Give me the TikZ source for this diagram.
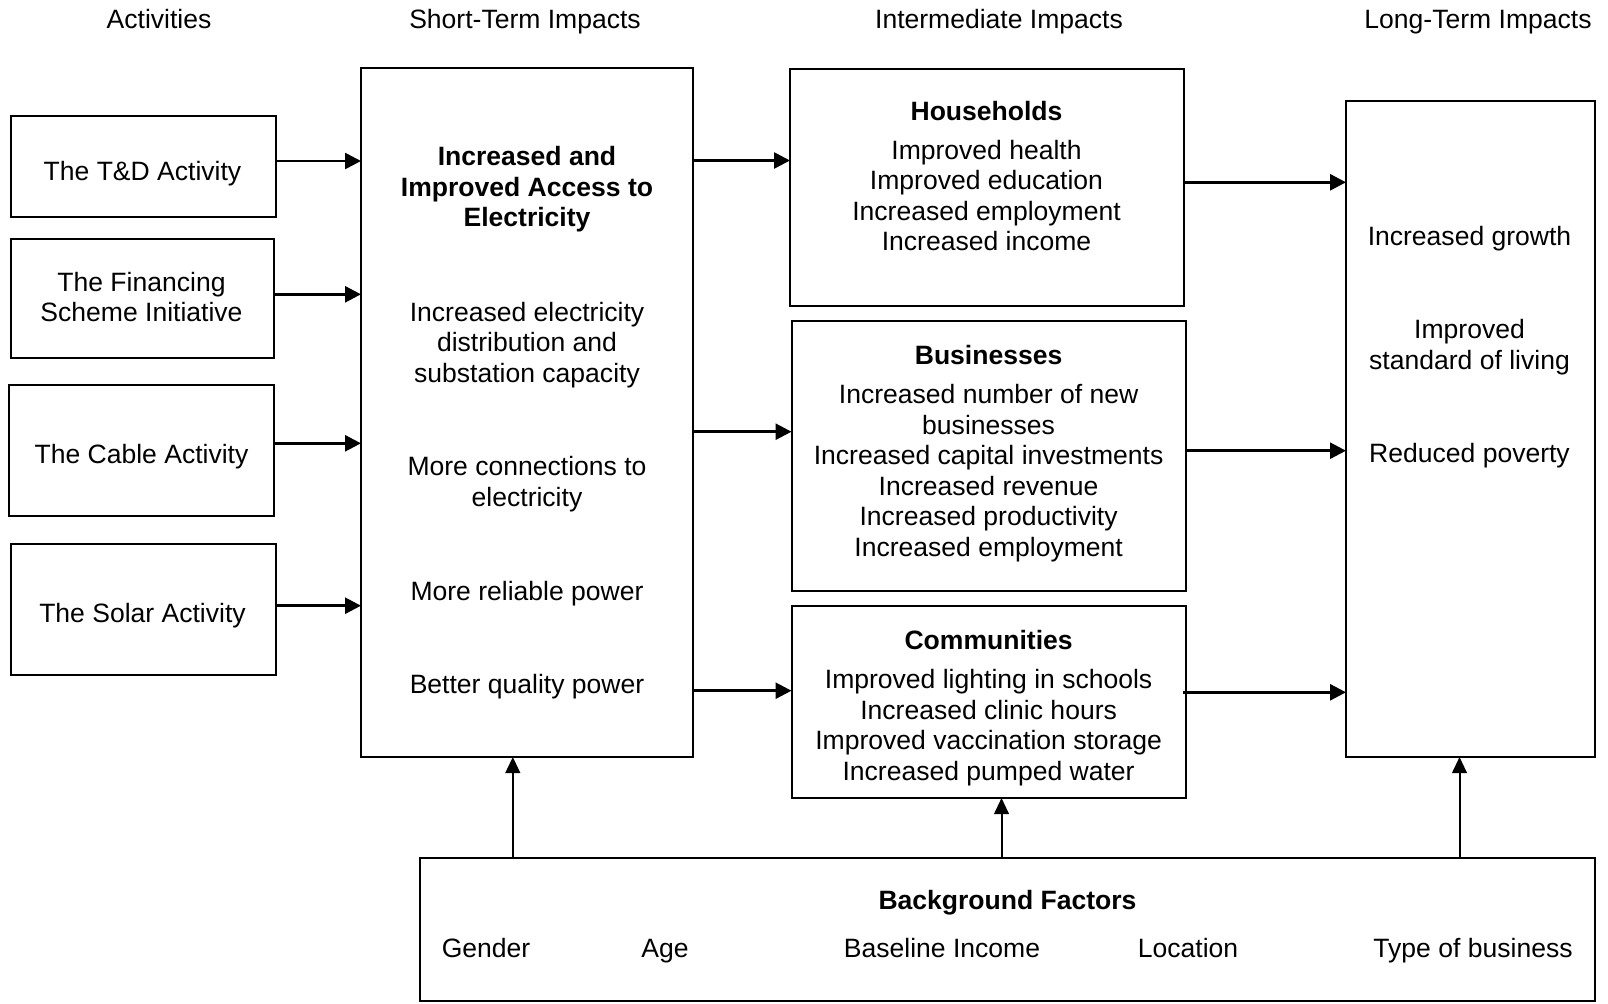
\documentclass[tikz,border=0pt]{standalone}
\usepackage{fontspec}
\setmainfont{Liberation Sans}
\usetikzlibrary{arrows.meta,fit}
\begin{document}
\begin{tikzpicture}[x=0.75pt,y=-0.75pt,
  box/.style={draw,line width=1.5pt,inner sep=0pt,outer sep=0pt},
  txt/.style={align=center,inner sep=0pt,font=\fontsize{19.9}{22.9}\selectfont},
  btxt/.style={align=center,inner sep=0pt,font=\fontsize{19.9}{22.9}\selectfont\bfseries},
  bl/.style={anchor=base},
  arr/.style={line width=2pt,-{Triangle[length=12pt,width=12pt]}},
  uarr/.style={line width=1.5pt,-{Triangle[length=12pt,width=11pt]}}]
\useasboundingbox (0,0) rectangle (1608,1003);

% headers
\node[txt,bl] (h1) at (159,28) {Activities};
\node[txt,bl] (h2) at (525,28) {Short-Term Impacts};
\node[txt,bl] (h3) at (999,28) {Intermediate Impacts};
\node[txt,bl] (h4) at (1478,28) {Long-Term Impacts};

% boxes
\node[box,fit={(10.5,116)(275.5,216.5)}] (td) {};
\node[box,fit={(10.5,239)(274,357.5)}] (fin) {};
\node[box,fit={(9,385)(274,516)}] (cab) {};
\node[box,fit={(10.5,543.5)(275.5,674.5)}] (sol) {};
\node[box,fit={(361,68)(692.5,757)}] (st) {};
\node[box,fit={(790,69)(1184,305.5)}] (hh) {};
\node[box,fit={(791.5,321)(1186,590.5)}] (bus) {};
\node[box,fit={(791.5,606)(1185.5,798)}] (com) {};
\node[box,fit={(1346,101)(1594.5,757)}] (lt) {};
\node[box,fit={(420,857.5)(1594.5,1000.5)}] (bg) {};

% activity texts
\node[txt,bl] (tdt) at (142.5,180.5) {The T\&D Activity};
\node[txt] (fint) at (141.5,296.9) {The Financing\\Scheme Initiative};
\node[txt,bl] (cabt) at (141.5,463.8) {The Cable Activity};
\node[txt,bl] (solt) at (142.5,622.7) {The Solar Activity};

% short-term texts
\node[btxt] (st1) at (527,189.6) {Increased and\\Improved Access to\\Electricity};
\node[txt] (st2) at (527,345) {Increased electricity\\distribution and\\substation capacity};
\node[txt] (st3) at (527,484) {More connections to\\electricity};
\node[txt,bl] (st4) at (527,600.2) {More reliable power};
\node[txt,bl] (st5) at (527,693.5) {Better quality power};

% intermediate texts
\node[btxt,bl] (hh1) at (986.5,120.3) {Households};
\node[txt] (hh2) at (986.5,195.7) {Improved health\\Improved education\\Increased employment\\Increased income};
\node[btxt,bl] (bus1) at (988.6,364.3) {Businesses};
\node[txt] (bus2) at (988.6,473.3) {Increased number of new\\businesses\\Increased capital investments\\Increased revenue\\Increased productivity\\Increased employment};
\node[btxt,bl] (com1) at (988.6,649.5) {Communities};
\node[txt] (com2) at (988.6,727.6) {Improved lighting in schools\\Increased clinic hours\\Improved vaccination storage\\Increased pumped water};

% long-term texts
\node[txt,bl] (lt1) at (1469.5,245.4) {Increased growth};
\node[txt] (lt2) at (1469.5,347.1) {Improved\\standard of living};
\node[txt,bl] (lt3) at (1469.5,462.5) {Reduced poverty};

% background texts
\node[btxt,bl] (bg0) at (1007.5,909.5) {Background Factors};
\node[txt,bl] (bg1) at (486,957.8) {Gender};
\node[txt,bl] (bg2) at (665,957.8) {Age};
\node[txt,bl] (bg3) at (942,957.8) {Baseline Income};
\node[txt,bl] (bg4) at (1188,957.8) {Location};
\node[txt,bl] (bg5) at (1473,957.8) {Type of business};

% arrows activities -> short term
\draw[arr] (td.east |- 0,161) -- (st.west |- 0,161);
\draw[arr] (fin.east |- 0,294.3) -- (st.west |- 0,294.3);
\draw[arr] (cab.east |- 0,443.3) -- (st.west |- 0,443.3);
\draw[arr] (sol.east |- 0,605.7) -- (st.west |- 0,605.7);

% short term -> intermediate
\draw[arr] (st.east |- 0,160.5) -- (hh.west |- 0,160.5);
\draw[arr] (st.east |- 0,431.7) -- (bus.west |- 0,431.7);
\draw[arr] (st.east |- 0,690.7) -- (com.west |- 0,690.7);

% intermediate -> long term
\draw[arr] (hh.east |- 0,182.3) -- (lt.west |- 0,182.3);
\draw[arr] (bus.east |- 0,450.7) -- (lt.west |- 0,450.7);
\draw[arr] ([xshift=-2pt]com.east |- 0,692.3) -- (lt.west |- 0,692.3);

% background -> up
\draw[uarr] (bg.north -| 512.8,0) -- (st.south -| 512.8,0);
\draw[uarr] (bg.north -| 1001.5,0) -- (com.south -| 1001.5,0);
\draw[uarr] (bg.north -| 1459.5,0) -- (lt.south -| 1459.5,0);
\end{tikzpicture}
\end{document}
